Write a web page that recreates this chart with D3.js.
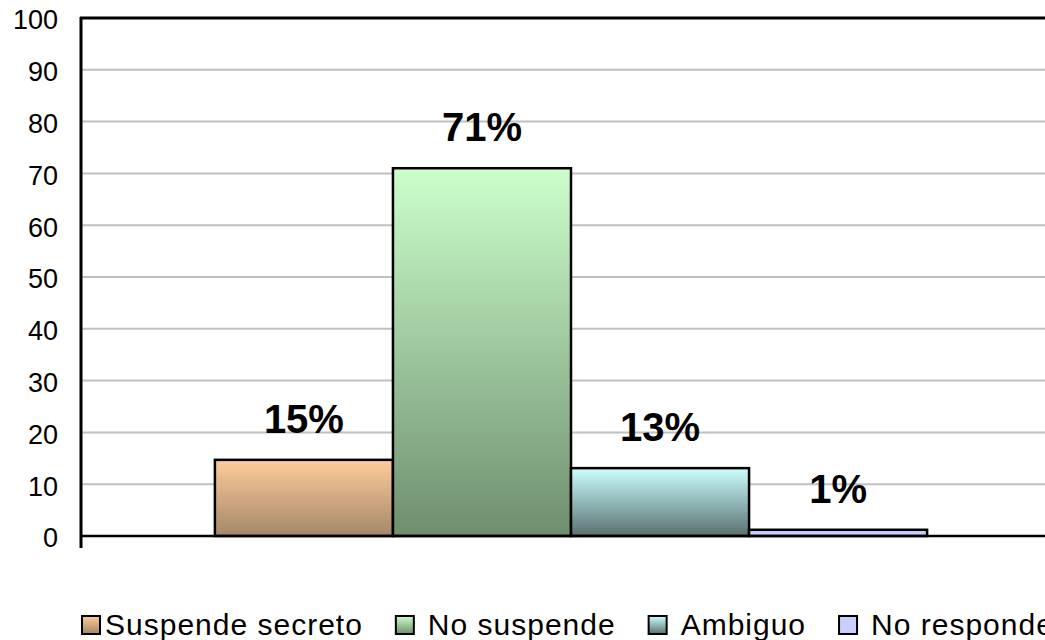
<!DOCTYPE html>
<html>
<head>
<meta charset="utf-8">
<script src="https://cdn.jsdelivr.net/npm/d3@7"></script>
<style>
  body { margin: 0; background: #fff; overflow: hidden; }
  svg { display: block; font-family: "Liberation Sans", Arial, sans-serif; }
</style>
</head>
<body>
<div id="chart"></div>
<script>
// data
var series = ['Suspende secreto', 'No suspende', 'Ambiguo', 'No responde'];
var values = [14.7, 71.0, 13.1, 1.2];
var labels = ['15%', '71%', '13%', '1%'];
var yTicks = [0, 10, 20, 30, 40, 50, 60, 70, 80, 90, 100];
var topColors = ['#ffcc99', '#ccffcc', '#ccffff', '#ccccff'];
var bottomColors = ['#a3876a', '#6e8e6e', '#597070', '#ccccff'];

var width = 1045, height = 640;
var margin = {left: 81, top: 18, right: -16, bottom: 104};

var svg = d3.select('#chart').append('svg')
    .attr('width', width)
    .attr('height', height);

var defs = svg.append('defs');
series.forEach(function(s, i) {
  var g = defs.append('linearGradient')
      .attr('id', 'grad' + i)
      .attr('x1', 0).attr('y1', 0).attr('x2', 0).attr('y2', 1);
  g.append('stop').attr('offset', '0%').attr('stop-color', topColors[i]);
  g.append('stop').attr('offset', '100%').attr('stop-color', bottomColors[i]);
});

var plotRight = width - margin.right;
var plotBottom = height - margin.bottom;

var y = d3.scaleLinear()
    .domain([0, 100])
    .range([plotBottom, margin.top]);

// one category group, four series inside it
var x0 = d3.scaleBand()
    .domain(['g'])
    .range([margin.left, plotRight])
    .paddingInner(0)
    .paddingOuter(0.188);

var x1 = d3.scaleBand()
    .domain(series)
    .range([x0('g'), x0('g') + x0.bandwidth()]);

//gridlines
svg.append('g')
  .selectAll('line')
  .data(yTicks.filter(function(d){ return d > 0 && d < 100; }))
  .enter().append('line')
    .attr('x1', margin.left)
    .attr('x2', plotRight)
    .attr('y1', function(d){ return y(d); })
    .attr('y2', function(d){ return y(d); })
    .attr('stroke', '#c0c0c0')
    .attr('stroke-width', 2);

//bars
svg.append('g')
  .selectAll('rect')
  .data(values)
  .enter().append('rect')
    .attr('x', function(d, i){ return x1(series[i]); })
    .attr('y', function(d){ return y(d); })
    .attr('width', x1.bandwidth())
    .attr('height', function(d){ return y(0) - y(d); })
    .attr('fill', function(d, i){ return 'url(#grad' + i + ')'; })
    .attr('stroke', '#000')
    .attr('stroke-width', 2.5);

//value labels
svg.append('g')
  .selectAll('text')
  .data(values)
  .enter().append('text')
    .attr('x', function(d, i){ return x1(series[i]) + x1.bandwidth() / 2; })
    .attr('y', function(d){ return y(d) - 27; })
    .attr('text-anchor', 'middle')
    .style('font-size', '40px')
    .style('font-weight', 'bold')
    .text(function(d, i){ return labels[i]; });

//top border
svg.append('line')
    .attr('x1', margin.left - 1).attr('x2', plotRight)
    .attr('y1', margin.top).attr('y2', margin.top)
    .attr('stroke', '#000').attr('stroke-width', 3);

//y axis
var yAxis = svg.append('g')
    .attr('transform', 'translate(' + margin.left + ',0)')
    .call(d3.axisLeft(y).tickValues(yTicks).tickSize(0).tickPadding(23));
yAxis.select('.domain').remove();
yAxis.selectAll('text')
    .style('font-size', '27px')
    .style('font-family', '"Liberation Sans", Arial, sans-serif')
    .attr('fill', '#000')
    .attr('dy', '0.4em');

svg.append('line')
    .attr('x1', margin.left).attr('x2', margin.left)
    .attr('y1', margin.top - 1).attr('y2', plotBottom + 12)
    .attr('stroke', '#000').attr('stroke-width', 3);

//x axis line
svg.append('line')
    .attr('x1', margin.left).attr('x2', plotRight)
    .attr('y1', y(0)).attr('y2', y(0))
    .attr('stroke', '#000').attr('stroke-width', 2.5);

//legend
var legend = svg.append('g').attr('class', 'legend');
var lx = 82, legendY = 635;
series.forEach(function(s, i) {
  var item = legend.append('g');
  item.append('rect')
      .attr('x', lx)
      .attr('y', legendY - 19)
      .attr('width', 18)
      .attr('height', 18)
      .attr('fill', 'url(#grad' + i + ')')
      .attr('stroke', '#000')
      .attr('stroke-width', 2);
  var t = item.append('text')
      .attr('x', lx + (i === 0 ? 23 : 32))
      .attr('y', legendY)
      .style('font-size', '30px')
      .style('letter-spacing', '1px')
      .text(s);
  lx = lx + (i === 0 ? 23 : 32) + t.node().getComputedTextLength() + 33;
});
</script>
</body>
</html>
